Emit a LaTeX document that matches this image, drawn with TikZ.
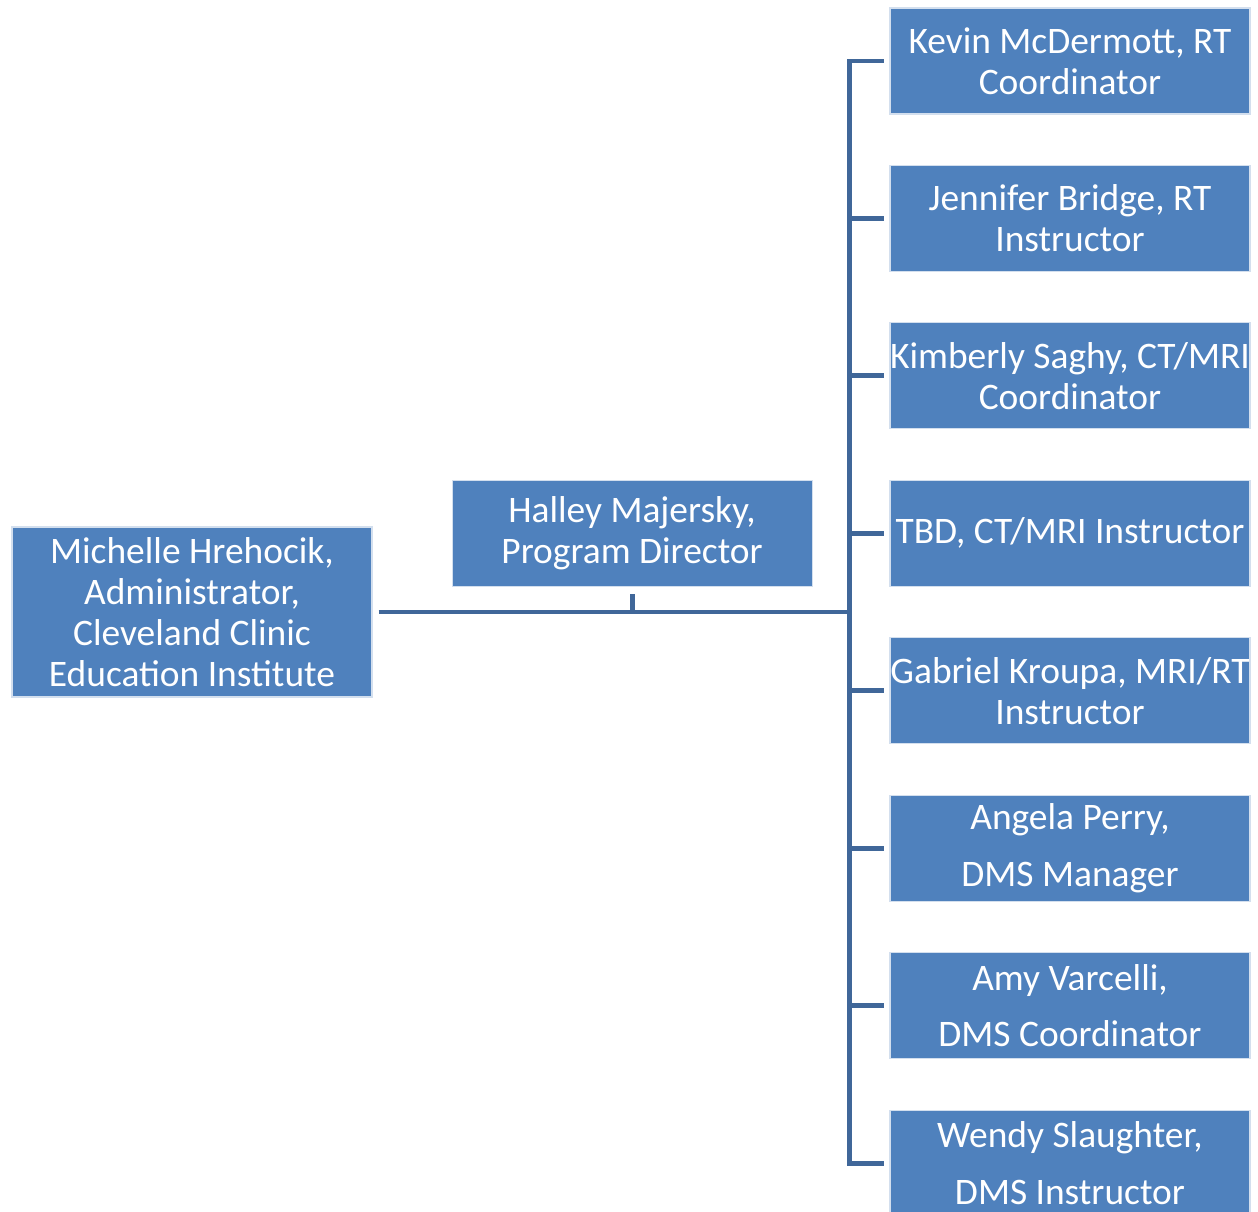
\documentclass[tikz,border=0pt]{standalone}
\usepackage{fontspec}
\setmainfont{Carlito}
\usepackage{tikz}
\usepackage{xcolor}
\usetikzlibrary{calc}
\usetikzlibrary{positioning}
\definecolor{boxBlue}{RGB}{79,129,189}
\definecolor{lineBlue}{RGB}{64,103,153}

\begin{document}
\begin{tikzpicture}[node distance = 1.008cm]
            % Set primary nodes
            \tikzset{
                personNode/.style={
                        draw=white!75!boxBlue,
                        line width=0.6pt,
                        fill=boxBlue,
                        rectangle,
                        text=white,
                        align=center,
                        inner sep=0pt,
                        minimum height=2.12cm,
                        minimum width=7.2cm,
                        font=\fontsize{21.3}{23.3}\selectfont
                    }
            }
            \tikzset{
                wideNode/.style={
                        personNode,
                        font=\fontsize{21.3}{32.3}\selectfont
                    }
            }
            \tikzset{
                administratorNode/.style={
                        personNode,
                        minimum height=3.4cm
                    }
            }
            % Configure connectors
            \tikzstyle{link} = [draw=lineBlue, line width=2.8pt]
            \useasboundingbox (0,0) rectangle (25.16,-24.24);
            % Placing nodes
            \node[administratorNode] at (3.84,-12.24) (administrator){Michelle Hrehocik,\\Administrator,\\Cleveland Clinic\\Education Institute};
            \node[personNode, right = 1.58cm of administrator, yshift = 1.57cm](programDirector){Halley Majersky,\\Program Director};
            \node[personNode] at (21.4,-1.22) (member1){Kevin McDermott, RT\\Coordinator};
            \node[personNode, below = of member1](member2){Jennifer Bridge, RT\\Instructor};
            \node[personNode, below = of member2](member3){Kimberly Saghy, CT/MRI\\Coordinator};
            \node[personNode, below = of member3](member4){TBD, CT/MRI Instructor};
            \node[personNode, below = of member4](member5){Gabriel Kroupa, MRI/RT\\Instructor};
            \node[wideNode, below = of member5](member6){Angela Perry,\\DMS Manager};
            \node[wideNode, below = of member6](member7){Amy Varcelli,\\DMS Coordinator};
            \node[wideNode, below = of member7](member8){Wendy Slaughter,\\DMS Instructor};
            \coordinate (trunkTop) at ([xshift=-0.8cm]member1.west);
            \coordinate (trunkBottom) at ([xshift=-0.8cm]member8.west);
            % Draw connectors
            \draw[link](administrator.east) ++(0.12,0) -- (administrator.east -| trunkTop);
            \draw[link](programDirector.south) ++(0,-0.14) -- (programDirector.south |- administrator.east);
            \draw[link, line cap=rect](trunkTop) -- (trunkBottom);
            \draw[link](trunkTop) -- ([xshift=-0.1cm]member1.west);
            \draw[link](member2.west -| trunkTop) -- ([xshift=-0.1cm]member2.west);
            \draw[link](member3.west -| trunkTop) -- ([xshift=-0.1cm]member3.west);
            \draw[link](member4.west -| trunkTop) -- ([xshift=-0.1cm]member4.west);
            \draw[link](member5.west -| trunkTop) -- ([xshift=-0.1cm]member5.west);
            \draw[link](member6.west -| trunkTop) -- ([xshift=-0.1cm]member6.west);
            \draw[link](member7.west -| trunkTop) -- ([xshift=-0.1cm]member7.west);
            \draw[link](trunkBottom) -- ([xshift=-0.1cm]member8.west);
        \end{tikzpicture}
\end{document}
